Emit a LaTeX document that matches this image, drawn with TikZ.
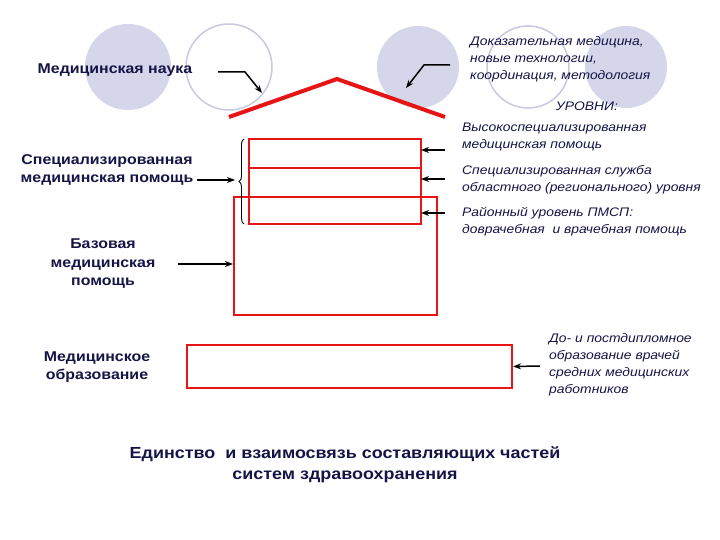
\documentclass[tikz,border=0pt]{standalone}
\usepackage{fontspec}
\setmainfont[FakeStretch=1.12]{Liberation Sans}
\usetikzlibrary{decorations.pathreplacing,arrows.meta}
\definecolor{navy}{RGB}{20,20,70}
\definecolor{lav}{RGB}{214,214,234}
\definecolor{lavline}{RGB}{200,200,225}
\definecolor{rd}{RGB}{230,20,20}
\begin{document}
\begin{tikzpicture}[x=1pt,y=-1pt,
  bl/.style={font=\fontsize{14.2}{18.5}\selectfont\bfseries,text=navy,align=center,inner sep=0},
  it/.style={font=\fontsize{12.4}{17}\selectfont\itshape,text=navy,align=left,anchor=north west,inner sep=0},
  arr/.style={-{Stealth[length=8pt,width=6pt]},line width=1.5pt},
  box/.style={draw=rd,line width=2.2pt}]
\useasboundingbox (0,0) rectangle (720,540);
% circles
\fill[lav] (128,67) circle (43);
\draw[lavline,line width=1.5pt] (229,67) circle (43);
\fill[lav] (418,67) circle (41);
\draw[lavline,line width=1.5pt] (528,67) circle (41);
\fill[lav] (626,67) circle (41);
% roof
\draw[rd,line width=4pt] (229,117) coordinate (rl) -- (337,79) coordinate (rp) -- (445,117) coordinate (rr);
% boxes
\draw[box] (234,197) rectangle (437,315);
\draw[box] (249,139) rectangle (421,224);
\draw[box] (249,168) -- (421,168);
\node[draw=rd,line width=2.2pt,minimum width=325,minimum height=43,inner sep=0] (edu) at (349.5,366.5) {};
\coordinate (hi) at (421,150);
\coordinate (mid) at (421,179);
\coordinate (lo) at (421,213);
\coordinate (baseL) at (233,264);
% brace
\draw[line width=0.9pt,decorate,decoration={brace,amplitude=5pt}] (244,224) -- (244,139) coordinate[midway] (br);
% texts
\node[bl] (sci) at (115,70) {Медицинская наука};
\node[bl] (spec) at (107,170) {Специализированная\\медицинская помощь};
\node[bl] (base) at (103,264) {Базовая\\медицинская\\помощь};
\node[bl] (eduT) at (97,367) {Медицинское\\образование};
\node[it] (ev) at (470,36) {Доказательная медицина,\\новые технологии,\\координация, методология};
\node[it,anchor=center] (lv) at (587,106) {УРОВНИ:};
\node[it] (t1) at (462,123) {Высокоспециализированная\\медицинская помощь};
\node[it] (t2) at (462,165) {Специализированная служба\\областного (регионального) уровня};
\node[it] (t3) at (462,207) {Районный уровень ПМСП:\\доврачебная\ \ и врачебная помощь};
\node[it] (t4) at (549,333) {До- и постдипломное\\образование врачей\\средних медицинских\\работников};
\node[font=\fontsize{16}{21}\selectfont\bfseries,text=navy,align=center] (title) at (345,465) {Единство\ \ и взаимосвязь составляющих частей\\систем здравоохранения};
% arrows
\draw[arr] (218,72) -- (245,72) -- (262,93);
\draw[arr] (450,65) -- (424,65) -- (406,88);
\draw[arr] (197,180) -- (235,180);
\draw[arr] (178,264) -- (baseL);
\draw[arr] (445,150) -- (hi);
\draw[arr] (445,179) -- (mid);
\draw[arr] (445,213) -- (lo);
\draw[arr] (540,366) -- (edu.east);
\end{tikzpicture}
\end{document}
